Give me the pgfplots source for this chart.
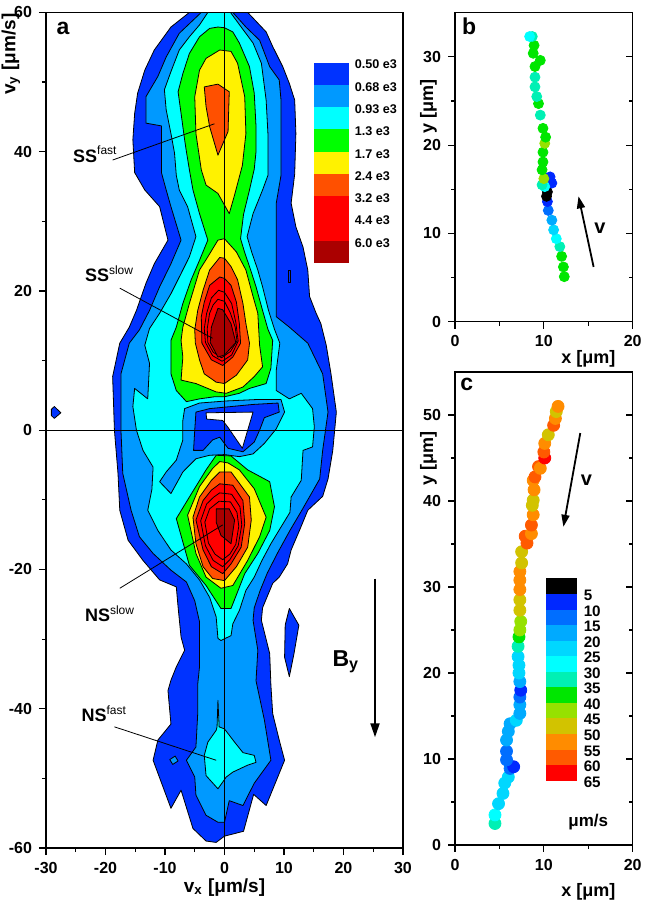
\documentclass[border=0pt]{standalone}
\usepackage{fontspec}
\setmainfont{Liberation Sans}
\usepackage{pgfplots}
\pgfplotsset{compat=1.18}
\usetikzlibrary{arrows.meta}
\definecolor{c1}{RGB}{0,51,255}
\definecolor{c2}{RGB}{0,153,255}
\definecolor{c3}{RGB}{0,255,255}
\definecolor{c4}{RGB}{0,255,0}
\definecolor{c5}{RGB}{255,242,0}
\definecolor{c6}{RGB}{255,80,0}
\definecolor{c7}{RGB}{255,0,0}
\definecolor{c9}{RGB}{170,0,0}
\definecolor{k1}{RGB}{0,0,0}
\definecolor{k2}{RGB}{0,40,255}
\definecolor{k3}{RGB}{0,110,255}
\definecolor{k4}{RGB}{0,170,255}
\definecolor{k5}{RGB}{0,215,255}
\definecolor{k6}{RGB}{0,255,255}
\definecolor{k7}{RGB}{0,240,180}
\definecolor{k8}{RGB}{0,230,0}
\definecolor{k9}{RGB}{150,225,0}
\definecolor{k10}{RGB}{210,195,0}
\definecolor{k11}{RGB}{255,140,0}
\definecolor{k12}{RGB}{255,90,0}
\definecolor{k13}{RGB}{255,0,0}
\pgfplotsset{
  myax/.style={scale only axis, anchor=south west,
    axis line style={line width=0.7pt},
    tick align=outside, tick pos=left,
    major tick length=3.5pt, minor tick length=2pt,
    tick style={black, line width=0.6pt},
    tick label style={font=\bfseries\fontsize{8}{9}\selectfont},
    /pgf/number format/assume math mode=true,
    label style={font=\bfseries\fontsize{9.5}{11}\selectfont},
    clip mode=individual},
  cl/.style={draw=black, line width=0.4pt, line join=round},
  spd/.style={scatter, only marks, mark=*, scatter src=explicit symbolic,
    scatter/classes={
      a1={draw=k1,fill=k1}, a2={draw=k2,fill=k2}, a3={draw=k3,fill=k3},
      a4={draw=k4,fill=k4}, a5={draw=k5,fill=k5}, a6={draw=k6,fill=k6},
      a7={draw=k7,fill=k7}, a8={draw=k8,fill=k8}, a9={draw=k9,fill=k9},
      a10={draw=k10,fill=k10}, a11={draw=k11,fill=k11}, a12={draw=k12,fill=k12},
      a13={draw=k13,fill=k13}}}
}
\begin{document}
\begin{tikzpicture}
\path[use as bounding box] (0pt,0pt) rectangle (322.5pt,452pt);
% ================= panel a =================
\begin{axis}[myax, at={(23pt,28pt)}, width=178.5pt, height=417.8pt,
  xmin=-30, xmax=30, ymin=-60, ymax=60,
  xtick={-30,-20,...,30}, ytick={-60,-40,...,60},
  minor x tick num=1, minor y tick num=1,
  xlabel={v\textsubscript{x} [μm/s]}, ylabel={v\textsubscript{y} [μm/s]},
  xlabel style={at={(axis description cs:0.5,-0.028)}, anchor=north},
  ylabel style={at={(axis description cs:-0.053,0.95)}, anchor=south}]
% level 0.50 e3
\addplot[cl, fill=c1] coordinates {(-5.9,60) (3.9,60) (7.0,57.2) (8.1,55.1) (9.8,52.2) (10.9,49.8) (11.8,47.4) (12.0,42.6) (11.8,36.8) (11.2,32.6) (12.0,29.2) (13.2,26.3) (14.0,23.0) (14.3,19.2) (15.4,16.8) (16.2,15.3) (17.1,12.2) (17.9,8.1) (18.8,2.6) (18.2,-2.9) (17.4,-7.0) (16.5,-9.5) (14.0,-11.5) (12.6,-14.4) (11.2,-17.2) (10.6,-19.2) (9.2,-21.1) (8.1,-22.0) (6.4,-25.5) (6.2,-27.3) (7.6,-32.1) (7.8,-36.6) (8.1,-40.7) (9.2,-44.5) (10.1,-47.4) (7.0,-53.9) (4.9,-52.3) (3.2,-57.6) (0,-58.3) (-1.4,-59.2) (-3.1,-59.0) (-5.3,-57.2) (-7.3,-51.7) (-9.0,-54.3) (-12.0,-47.4) (-11.2,-44.5) (-9.0,-42.2) (-9.5,-37.4) (-9.0,-35.9) (-8.1,-34.0) (-6.7,-31.6) (-7.3,-29.7) (-7.8,-25.4) (-8.1,-22.5) (-10.9,-21.5) (-13.7,-18.7) (-16.2,-15.8) (-17.6,-11.5) (-17.9,-6.2) (-18.5,0) (-18.8,7.7) (-17.6,12.5) (-16.0,14.8) (-14.8,17.2) (-13.2,21.1) (-11.8,23.9) (-9.5,27.3) (-10.9,32.1) (-13.4,34.5) (-15.1,37.0) (-15.4,41.7) (-15.1,45.5) (-14.6,48.4) (-13.4,51.7) (-11.8,54.6) (-9.0,57.9)} -- cycle;
\addplot[cl, fill=c1] coordinates {(-29.1,3.0) (-28.6,3.4) (-27.5,2.5) (-28.6,1.7) (-29.1,2.1)} -- cycle;
\addplot[cl, fill=c1] coordinates {(10.9,-25.6) (12.5,-28.0) (11.7,-32.0) (10.9,-35.4) (10.1,-32.6) (10.2,-28.0)} -- cycle;
\addplot[cl, fill=c1] coordinates {(10.8,22.9) (11.0,22.9) (11.0,21.2) (10.8,21.2)} -- cycle;
% level 0.68 e3
\addplot[cl, fill=c2] coordinates {(-3.9,60) (1.4,60) (3.6,57.9) (5.9,56.0) (7.6,52.2) (9.2,50.3) (9.5,47.4) (9.5,42.6) (9.5,36.6) (8.7,32.6) (8.7,27.8) (8.7,23.0) (8.7,16.3) (10.9,14.8) (14.0,12.5) (16.5,8.1) (17.4,2.6) (16.5,-2.9) (16.0,-7.0) (13.0,-11.5) (11.0,-14.4) (9.0,-17.5) (7.2,-20.5) (6.0,-23.0) (5.0,-25.5) (4.8,-27.3) (5.6,-31.6) (5.3,-36.0) (6.7,-41.6) (7.8,-47.4) (5.0,-50.7) (3.1,-53.9) (0.8,-53.2) (0,-56.3) (-1.1,-56.3) (-3.1,-55.3) (-4.8,-52.4) (-5.0,-49.8) (-6.4,-47.4) (-4.8,-45.5) (-4.5,-40.7) (-4.5,-36.5) (-4.2,-34.0) (-4.2,-31.0) (-4.2,-27.5) (-5.0,-24.5) (-6.4,-21.8) (-9.0,-20.1) (-12.0,-17.7) (-14.3,-15.3) (-15.7,-11.5) (-17.1,-6.2) (-17.4,0) (-17.4,8.1) (-16.0,12.5) (-14.3,14.4) (-12.6,17.2) (-10.9,20.6) (-9.0,23.9) (-7.3,27.3) (-9.0,32.1) (-9.8,34.5) (-10.6,37.0) (-10.6,43.7) (-13.2,44.1) (-13.2,47.9) (-11.2,50.8) (-9.8,53.6) (-7.6,57.0)} -- cycle;
\addplot[cl, fill=c2] coordinates {(-9.2,-47.3) (-8.3,-46.8) (-7.8,-47.5) (-8.7,-48.0)} -- cycle;
% level 0.93 e3
\addplot[cl, fill=c3] coordinates {(-2.8,60) (1.0,60) (2.8,57.9) (4.8,55.6) (6.2,52.7) (7.0,47.4) (7.3,42.6) (7.3,36.6) (6.4,34.5) (4.8,31.1) (3.8,27.8) (4.6,25.5) (5.6,23.0) (6.4,20.6) (7.4,17.2) (8.4,14.5) (9.3,12.5) (8.7,8.6) (8.7,5.7) (10.9,4.5) (12.9,5.3) (14.8,3.1) (15.1,0.5) (14.8,-2.4) (13.2,-2.9) (12.9,-7.2) (11.2,-9.6) (11.0,-11.8) (9.5,-13.9) (7.8,-16.3) (6.3,-18.7) (5.0,-21.1) (3.6,-23.0) (2.5,-25.9) (1.4,-27.8) (1.1,-29.5) (-0.6,-30.2) (-1.1,-29.9) (-1.4,-26.8) (-2.5,-24.0) (-4.2,-21.5) (-6.4,-19.2) (-9.0,-17.2) (-11.2,-14.4) (-12.9,-11.5) (-12.2,-8.5) (-12.0,-5.3) (-13.7,-2.9) (-14.8,0) (-15.4,3.4) (-15.1,6.0) (-12.9,4.5) (-12.6,9.6) (-13.4,12.2) (-12.6,14.6) (-10.9,16.8) (-9.0,19.6) (-7.3,22.5) (-5.9,24.9) (-4.8,27.8) (-6.2,32.1) (-7.6,34.5) (-8.1,36.6) (-8.4,39.8) (-9.0,42.6) (-9.8,46.0) (-10.1,48.9) (-9.0,51.5) (-7.6,54.6) (-5.9,56.5) (-4.2,58.2)} -- cycle;
\addplot[cl, fill=c3] coordinates {(-1.1,-38.8) (-0.9,-42.6) (0,-42.9) (1.7,-44.8) (3.1,-46.3) (5.0,-46.7) (5.3,-47.7) (3.9,-48.1) (1.4,-49.1) (0.3,-49.8) (-1.1,-51.5) (-3.1,-49.6) (-3.4,-46.7) (-2.8,-44.8) (-1.4,-43.1) (-1.25,-42.6)} -- cycle;
% centre dip between the lobes
\addplot[cl, fill=c2] coordinates {(-6.7,3.1) (-4.2,3.9) (0.3,4.2) (5.3,4.4) (9.5,4.4) (10.1,2.6) (8.7,0.2) (6.7,-1.9) (4.8,-3.4) (2.5,-3.8) (0,-3.5) (-2.5,-3.6) (-4.8,-4.1) (-7.0,-6.0) (-9.0,-9.1) (-10.9,-7.4) (-9.8,-6.0) (-8.1,-4.3) (-7.0,-1.4) (-7.0,1.4)} -- cycle;
\addplot[cl, fill=c1] coordinates {(-4.8,2.6) (-2.5,3.1) (4.8,3.7) (9.0,3.9) (9.2,2.6) (6.7,1.8) (5.9,0) (5.0,-1.7) (3.1,-3.1) (0.6,-2.6) (-0.8,-1.0) (-2.0,-1.4) (-3.6,-2.9) (-5.2,-2.9) (-5.0,0)} -- cycle;
\addplot[cl, fill=white] coordinates {(-3.1,2.5) (4.8,2.6) (3.0,-2.6) (0.6,0.4) (-0.3,1.4) (-3.0,1.6)} -- cycle;
% level 1.3 e3
\addplot[cl, fill=c4] coordinates {(-1.1,57.9) (0,57.8) (1.4,57.2) (2.5,55.6) (4.2,52.2) (5.0,48.4) (5.3,43.6) (5.3,40.0) (5.0,37.5) (4.2,34.5) (3.2,31.0) (2.7,27.5) (3.4,25.5) (4.4,23.0) (5.3,20.6) (6.4,17.2) (7.3,14.5) (8.1,12.9) (7.8,8.9) (7.0,6.7) (4.2,6.0) (2.5,5.3) (0,4.8) (-1.7,4.8) (-4.2,4.5) (-6.4,4.1) (-8.1,5.7) (-9.0,8.1) (-9.0,12.9) (-8.1,14.8) (-7.0,18.2) (-5.6,21.6) (-4.2,24.4) (-2.8,27.3) (-4.2,31.1) (-5.3,34.5) (-5.9,37.4) (-6.4,40.0) (-6.7,41.7) (-7.3,45.5) (-7.8,48.6) (-7.0,51.2) (-5.9,54.1) (-4.2,56.5) (-2.5,57.7)} -- cycle;
\addplot[cl, fill=c4] coordinates {(-1.4,-3.6) (1.1,-3.7) (3.9,-5.7) (7.6,-7.4) (8.4,-11.0) (7.6,-14.4) (5.6,-17.7) (3.4,-20.6) (1.1,-25.6) (-0.6,-25.6) (-3.1,-22.3) (-5.9,-19.4) (-8.1,-12.7) (-5.9,-9.6) (-3.1,-5.7)} -- cycle;
% level 1.7 e3
\addplot[cl, fill=c5] coordinates {(-0.8,54.6) (1.1,54.4) (2.2,52.7) (3.4,47.9) (3.6,42.6) (3.0,38.0) (1.7,33.8) (0.8,31.1) (-1.1,34.0) (-3.1,35.2) (-3.9,37.4) (-4.8,42.6) (-5.0,47.9) (-4.2,51.7) (-3.1,53.4)} -- cycle;
\addplot[cl, fill=c5] coordinates {(-1.1,27.3) (0,27.5) (2.0,25.6) (3.6,23.0) (4.8,19.2) (5.6,16.8) (5.9,12.2) (6.4,9.1) (5.0,7.7) (3.1,6.2) (0.3,5.3) (-1.4,5.5) (-4.8,6.7) (-7.3,7.2) (-7.0,10.5) (-7.3,12.9) (-7.0,14.8) (-5.9,18.2) (-4.2,23.0) (-2.8,24.9)} -- cycle;
\addplot[cl, fill=c5] coordinates {(-0.8,-4.5) (0.6,-4.7) (2.5,-5.7) (5.0,-8.4) (7.0,-12.5) (5.9,-15.3) (3.9,-18.7) (1.4,-22.3) (-0.6,-22.7) (-3.1,-21.1) (-4.8,-17.7) (-6.2,-12.2) (-4.2,-8.1) (-2.0,-5.5)} -- cycle;
% level 2.4 e3
\addplot[cl, fill=c6] coordinates {(-3.4,49.3) (-1.1,49.7) (0.8,48.6) (0.6,42.9) (-1.1,39.5) (-2.5,43.6) (-3.1,46.5)} -- cycle;
\addplot[cl, fill=c6] coordinates {(-0.8,24.8) (0,24.7) (1.1,23.5) (2.2,21.6) (3.1,18.2) (3.6,15.3) (4.2,12.5) (3.9,10.1) (2.0,7.9) (0,6.7) (-1.4,6.9) (-3.4,8.1) (-4.2,10.1) (-4.9,12.5) (-5.0,14.4) (-4.5,17.2) (-3.6,20.1) (-2.5,23.0)} -- cycle;
\addplot[cl, fill=c6] coordinates {(-0.8,-6.0) (1.1,-6.0) (4.2,-9.6) (4.5,-12.9) (3.9,-16.8) (2.0,-19.6) (0,-21.6) (-2.0,-21.3) (-3.6,-19.6) (-4.8,-16.3) (-5.3,-12.5) (-4.2,-9.6) (-2.2,-7.2)} -- cycle;
% levels 3.2 e3 and 4.4 e3
\addplot[cl, fill=c7] coordinates {(-0.8,22.0) (0,21.8) (1.1,20.8) (2.0,18.4) (2.5,15.3) (2.7,12.5) (1.4,10.5) (-0.3,9.3) (-2.2,10.1) (-3.8,12.5) (-3.9,16.3) (-3.4,18.4) (-2.5,20.8)} -- cycle;
\addplot[cl, fill=c7] coordinates {(-1.0,20.1) (0,19.8) (1.2,18.2) (1.9,15.5) (2.3,12.8) (1.2,10.8) (-0.4,9.9) (-2.0,10.7) (-3.2,12.6) (-3.4,14.6) (-3.0,16.8) (-2.2,19.0)} -- cycle;
\addplot[cl, fill=c7] coordinates {(-1.1,18.8) (0,18.5) (1.0,16.8) (1.8,14.8) (2.1,12.8) (1.0,11.3) (-0.5,10.4) (-1.9,11.2) (-2.8,12.6) (-2.9,14.6) (-2.5,16.8) (-1.9,18.0)} -- cycle;
\addplot[cl, fill=c7] coordinates {(-0.8,-7.7) (1.4,-7.9) (3.1,-10.1) (3.4,-13.4) (2.8,-16.8) (1.1,-19.2) (-0.3,-20.6) (-2.2,-19.6) (-3.6,-17.2) (-4.8,-12.9) (-3.6,-10.1) (-2.2,-8.6)} -- cycle;
\addplot[cl, fill=c7] coordinates {(-0.8,-9.0) (1.2,-9.2) (2.6,-11.0) (2.9,-13.6) (2.3,-16.6) (0.9,-18.6) (-0.3,-19.6) (-1.9,-18.7) (-3.2,-16.6) (-4.0,-13.0) (-3.0,-10.6) (-1.8,-9.6)} -- cycle;
\addplot[cl, fill=c7] coordinates {(-0.9,-10.2) (1.0,-10.3) (2.1,-11.8) (2.4,-13.8) (1.9,-16.4) (0.9,-17.8) (-0.3,-18.6) (-1.6,-17.8) (-2.7,-16.2) (-3.3,-13.2) (-2.5,-11.3)} -- cycle;
% level 6.0 e3
\addplot[cl, fill=c9] coordinates {(-1.1,17.5) (-0.3,17.3) (1.1,15.3) (1.9,12.6) (0,10.8) (-1.1,10.5) (-2.4,12.6) (-2.2,14.8)} -- cycle;
\addplot[cl, fill=c9] coordinates {(-1.4,-11.3) (0.8,-11.3) (1.7,-12.9) (1.1,-16.3) (-0.6,-15.1) (-1.4,-13.2)} -- cycle;
% axes through the origin
\draw[line width=0.6pt] (axis cs:0,-60) -- (axis cs:0,60);
\draw[line width=0.6pt] (axis cs:-30,0) -- (axis cs:30,0);
% colour key
\fill[c1] (axis cs:15.1,52.8) rectangle (axis cs:21.0,49.6);
\fill[c2] (axis cs:15.1,49.6) rectangle (axis cs:21.0,46.4);
\fill[c3] (axis cs:15.1,46.4) rectangle (axis cs:21.0,43.2);
\fill[c4] (axis cs:15.1,43.2) rectangle (axis cs:21.0,40.0);
\fill[c5] (axis cs:15.1,40.0) rectangle (axis cs:21.0,36.8);
\fill[c6] (axis cs:15.1,36.8) rectangle (axis cs:21.0,33.6);
\fill[c7] (axis cs:15.1,33.6) rectangle (axis cs:21.0,27.2);
\fill[c9] (axis cs:15.1,27.2) rectangle (axis cs:21.0,24.0);
\begin{scope}[every node/.style={anchor=west, font=\bfseries\fontsize{6.3}{7}\selectfont, inner sep=0pt}]
\node at (axis cs:21.85,52.5) {0.50 e3};
\node at (axis cs:21.85,49.3) {0.68 e3};
\node at (axis cs:21.85,46.1) {0.93 e3};
\node at (axis cs:21.85,42.9) {1.3 e3};
\node at (axis cs:21.85,39.7) {1.7 e3};
\node at (axis cs:21.85,36.5) {2.4 e3};
\node at (axis cs:21.85,33.3) {3.2 e3};
\node at (axis cs:21.85,30.1) {4.4 e3};
\node at (axis cs:21.85,26.9) {6.0 e3};
\end{scope}
% labels
\node[anchor=base west, font=\bfseries\fontsize{11.5}{13}\selectfont, inner sep=0pt] at (axis cs:-28.3,56.8) {a};
\begin{scope}[every node/.style={anchor=base west, font=\bfseries\fontsize{9}{10}\selectfont, inner sep=0pt}]
\node at (axis cs:-25.5,38.5) {SS\textsuperscript{\mdseries fast}};
\node at (axis cs:-23.5,21.3) {SS\textsuperscript{\mdseries slow}};
\node at (axis cs:-23.5,-27.5) {NS\textsuperscript{\mdseries slow}};
\node at (axis cs:-24.1,-41.9) {NS\textsuperscript{\mdseries fast}};
\end{scope}
\draw[line width=0.4pt] (axis cs:-18.8,38.8) -- (axis cs:-1.7,44.0);
\draw[line width=0.4pt] (axis cs:-17.6,20.4) -- (axis cs:-2.0,13.2);
\draw[line width=0.4pt] (axis cs:-17.6,-22.7) -- (axis cs:-0.3,-13.6);
\draw[line width=0.4pt] (axis cs:-18.5,-42.6) -- (axis cs:-1.4,-47.4);
\node[anchor=base west, font=\bfseries\fontsize{11.5}{13}\selectfont, inner sep=0pt] at (axis cs:18.1,-33.9) {B\textsubscript{y}};
\draw[line width=1pt, -{Triangle[length=7pt,width=4.5pt]}] (axis cs:25.3,-21.3) -- (axis cs:25.3,-44.1);
\end{axis}
% ================= panel b =================
\begin{axis}[myax, at={(227.5pt,291.15pt)}, width=88.85pt, height=154.5pt,
  xmin=0, xmax=20, ymin=0, ymax=35,
  xtick={0,10,20}, ytick={0,10,20,30},
  minor x tick num=1, minor y tick num=1,
  xlabel={x [μm]}, ylabel={y [μm]},
  label style={font=\bfseries\fontsize{9}{10}\selectfont},
  xlabel style={at={(axis description cs:0.75,-0.07)}, anchor=north},
  ylabel style={at={(axis description cs:-0.062,0.695)}, anchor=south}]
\addplot[spd, mark size=2.5pt] coordinates {
(12.3,5.1) [a8] (12.2,6.2) [a8] (12.0,7.4) [a8] (11.8,8.5) [a7] (11.4,9.4) [a6]
(11.1,10.4) [a5] (10.9,11.5) [a4] (10.5,12.6) [a3] (10.4,13.6) [a2]
(10.3,14.2) [a1] (10.4,14.7) [a1] (10.9,15.7) [a2] (10.7,16.4) [a2]
(10.1,15.3) [a6] (9.8,15.5) [a7] (10.0,16.2) [a9] (9.8,17.2) [a8]
(9.9,18.1) [a8] (9.9,19.2) [a8] (10.1,20.2) [a9] (10.2,20.9) [a8]
(9.9,21.9) [a8] (9.6,23.4) [a7] (9.4,24.7) [a8] (9.2,25.5) [a7]
(9.0,26.6) [a7] (9.0,27.7) [a7] (9.0,28.9) [a8] (9.6,29.6) [a8]
(8.8,30.4) [a8] (8.9,31.3) [a8] (8.7,32.3) [a7] (8.4,32.3) [a6]};
\node[anchor=base west, font=\bfseries\fontsize{11.5}{13}\selectfont, inner sep=0pt] at (axis cs:0.75,32.5) {b};
\draw[line width=0.9pt, -{Triangle[length=6pt,width=4pt]}] (axis cs:15.6,6.2) -- (axis cs:13.9,14.2);
\node[font=\bfseries\fontsize{10}{11}\selectfont] at (axis cs:16.3,10.6) {v};
\end{axis}
\begin{axis}[scale only axis, anchor=south west, at={(227.5pt,291.15pt)}, width=88.85pt, height=154.5pt,
  xmin=0, xmax=20, ymin=0, ymax=35, axis x line=none, axis y line*=right,
  axis line style={line width=0.7pt}, ytick={0,10,20,30}, minor y tick num=1,
  yticklabels={}, tick align=inside, major tick length=3.5pt, minor tick length=2pt,
  tick style={black, line width=0.6pt}]
\addplot[draw=none] coordinates {(0,0)};
\end{axis}
% ================= panel c =================
\begin{axis}[myax, at={(227.5pt,29.5pt)}, width=88.85pt, height=236.5pt,
  xmin=0, xmax=20, ymin=0, ymax=55,
  xtick={0,10,20}, ytick={0,10,...,50},
  minor x tick num=1, minor y tick num=1,
  xlabel={x [μm]}, ylabel={y [μm]},
  label style={font=\bfseries\fontsize{9}{10}\selectfont},
  xlabel style={at={(axis description cs:0.75,-0.066)}, anchor=north},
  ylabel style={at={(axis description cs:-0.062,0.818)}, anchor=south}]
\addplot[spd, mark size=3pt] coordinates {
(4.5,2.5) [a7] (4.5,3.5) [a6] (4.9,4.8) [a5] (5.4,6.0) [a5] (5.6,7.2) [a5]
(6.0,7.9) [a5] (6.2,8.9) [a3] (6.6,9.1) [a2] (5.8,9.9) [a3] (5.8,10.9) [a3]
(5.8,12.2) [a4] (6.0,13.2) [a4] (6.2,14.1) [a4] (6.9,14.5) [a5] (7.3,15.3) [a4]
(7.3,16.3) [a4] (7.3,17.2) [a3] (7.4,18.0) [a2] (7.3,19.0) [a4] (7.2,20.0) [a5]
(7.2,20.9) [a5] (7.1,21.9) [a5] (7.1,23.1) [a7] (7.2,24.2) [a8] (7.3,25.0) [a9]
(7.4,26.0) [a9] (7.3,27.3) [a10] (7.3,28.5) [a10] (7.3,29.7) [a11] (7.3,30.8) [a11]
(7.3,31.8) [a11] (7.5,32.8) [a10] (7.5,34.1) [a10] (8.1,35.1) [a12] (7.9,35.9) [a12]
(8.6,36.2) [a11] (8.6,37.2) [a12] (8.8,38.4) [a11] (8.7,39.5) [a10] (8.8,40.1) [a10]
(8.9,41.3) [a11] (8.8,42.4) [a11] (9.0,42.8) [a12] (9.4,44.0) [a12] (9.6,43.8) [a11]
(10.1,45.0) [a13] (10.0,45.7) [a12] (10.1,46.7) [a11] (10.5,47.7) [a10] (11.1,48.8) [a12]
(11.3,49.6) [a11] (11.4,50.4) [a10] (11.6,51.0) [a11]};
\node[anchor=base west, font=\bfseries\fontsize{11.5}{13}\selectfont, inner sep=0pt] at (axis cs:0.56,52.9) {c};
\draw[line width=0.9pt, -{Triangle[length=6pt,width=4pt]}] (axis cs:14.1,47.9) -- (axis cs:12.2,37.0);
\node[font=\bfseries\fontsize{10}{11}\selectfont] at (axis cs:14.8,42.4) {v};
\fill[k1] (axis cs:10.25,31.0) rectangle (axis cs:13.7,29.19);
\fill[k2] (axis cs:10.25,29.19) rectangle (axis cs:13.7,27.38);
\fill[k3] (axis cs:10.25,27.38) rectangle (axis cs:13.7,25.57);
\fill[k4] (axis cs:10.25,25.57) rectangle (axis cs:13.7,23.76);
\fill[k5] (axis cs:10.25,23.76) rectangle (axis cs:13.7,21.95);
\fill[k6] (axis cs:10.25,21.95) rectangle (axis cs:13.7,20.14);
\fill[k7] (axis cs:10.25,20.14) rectangle (axis cs:13.7,18.33);
\fill[k8] (axis cs:10.25,18.33) rectangle (axis cs:13.7,16.52);
\fill[k9] (axis cs:10.25,16.52) rectangle (axis cs:13.7,14.71);
\fill[k10] (axis cs:10.25,14.71) rectangle (axis cs:13.7,12.90);
\fill[k11] (axis cs:10.25,12.90) rectangle (axis cs:13.7,11.09);
\fill[k12] (axis cs:10.25,11.09) rectangle (axis cs:13.7,9.28);
\fill[k13] (axis cs:10.25,9.28) rectangle (axis cs:13.7,7.47);
\begin{scope}[every node/.style={anchor=west, font=\bfseries\fontsize{7.6}{8.5}\selectfont, inner sep=0pt}]
\node at (axis cs:14.45,29.04) {5};
\node at (axis cs:14.45,27.23) {10};
\node at (axis cs:14.45,25.42) {15};
\node at (axis cs:14.45,23.61) {20};
\node at (axis cs:14.45,21.80) {25};
\node at (axis cs:14.45,19.99) {30};
\node at (axis cs:14.45,18.18) {35};
\node at (axis cs:14.45,16.37) {40};
\node at (axis cs:14.45,14.56) {45};
\node at (axis cs:14.45,12.75) {50};
\node at (axis cs:14.45,10.94) {55};
\node at (axis cs:14.45,9.13) {60};
\node at (axis cs:14.45,7.32) {65};
\end{scope}
\node[font=\bfseries\fontsize{8.5}{10}\selectfont] at (axis cs:15.0,2.7) {μm/s};
\end{axis}
\begin{axis}[scale only axis, anchor=south west, at={(227.5pt,29.5pt)}, width=88.85pt, height=236.5pt,
  xmin=0, xmax=20, ymin=0, ymax=55, axis x line=none, axis y line*=right,
  axis line style={line width=0.7pt}, ytick={0,10,...,50}, minor y tick num=1,
  yticklabels={}, tick align=inside, major tick length=3.5pt, minor tick length=2pt,
  tick style={black, line width=0.6pt}]
\addplot[draw=none] coordinates {(0,0)};
\end{axis}
\end{tikzpicture}
\end{document}
